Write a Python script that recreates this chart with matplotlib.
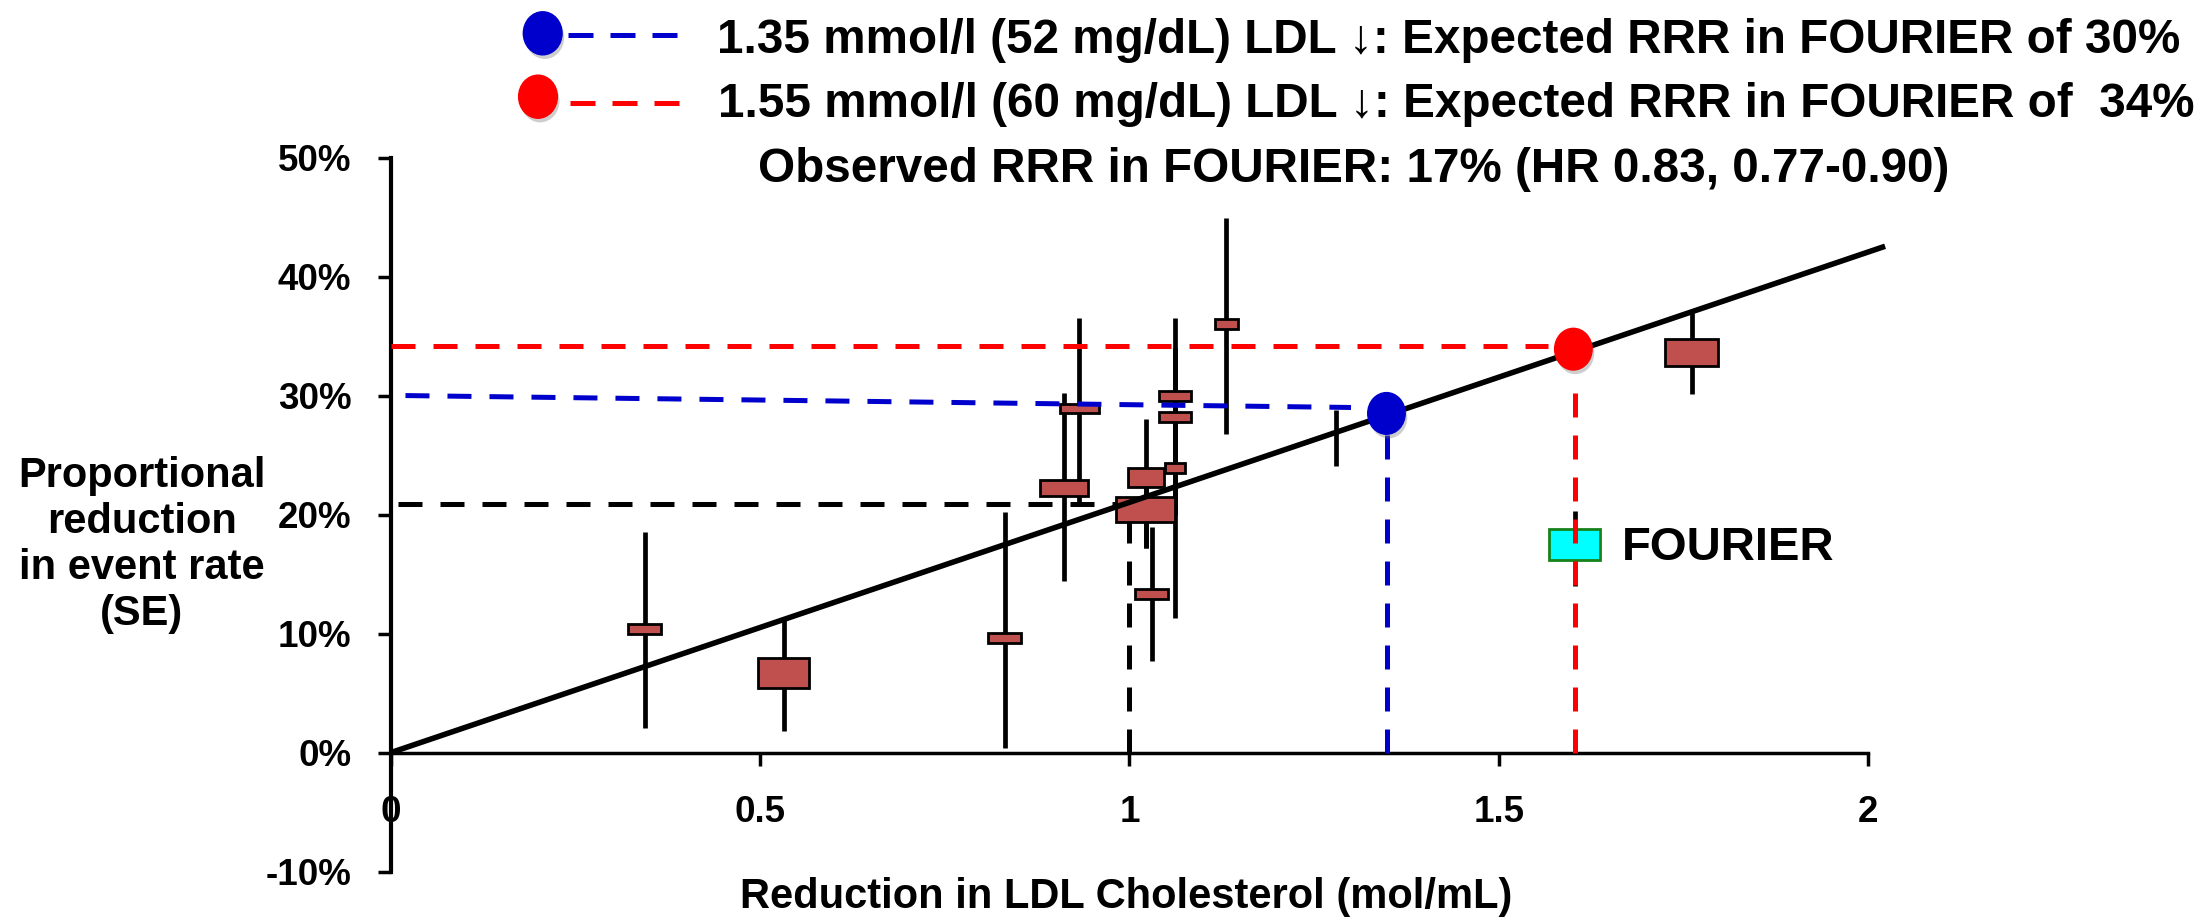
import matplotlib
matplotlib.use("Agg")
import matplotlib.pyplot as plt
import matplotlib.patheffects as pe
from matplotlib.lines import Line2D
from matplotlib.patches import Rectangle
from matplotlib.path import Path
from matplotlib.transforms import Affine2D
from matplotlib.ticker import PercentFormatter

plt.rcParams["font.family"] = ["Liberation Sans", "DejaVu Sans"]
plt.rcParams["font.weight"] = "bold"
plt.rcParams["axes.unicode_minus"] = False

# Trials: LDL reduction (mmol/L), proportional reduction, SE range, box size (weight)
trial_x = [0.344, 0.532, 0.831, 0.912, 0.932, 1.022, 1.023, 1.030,
           1.062, 1.062, 1.062, 1.131, 1.280, 1.761]
trial_y = [0.104, 0.067, 0.096, 0.222, 0.289, 0.204, 0.231, 0.133,
           0.300, 0.282, 0.239, 0.360, 0.265, 0.336]
trial_lo = [0.021, 0.018, 0.004, 0.144, 0.207, 0.172, 0.172, 0.077,
            0.240, 0.200, 0.113, 0.268, 0.241, 0.301]
trial_hi = [0.185, 0.112, 0.202, 0.302, 0.365, 0.235, 0.280, 0.190,
            0.365, 0.340, 0.300, 0.449, 0.288, 0.369]
weight_w = [0.045, 0.069, 0.044, 0.065, 0.053, 0.079, 0.049, 0.044,
            0.044, 0.044, 0.027, 0.031, 0.0, 0.071]
weight_h = [0.0084, 0.0258, 0.0084, 0.0134, 0.0078, 0.021, 0.016, 0.0084,
            0.0084, 0.0084, 0.0084, 0.0084, 0.0, 0.0224]

# FOURIER observed result
fourier_x = 1.603
fourier_y = 0.175
fourier_lo, fourier_hi = 0.140, 0.203
fourier_w, fourier_h = 0.069, 0.0258

# CTT regression line (22 % per 1 mmol/L)
fit_x = [0.0, 2.023]
fit_slope = 0.2103

# Expected RRR for FOURIER LDL reductions
exp_x = [1.348, 1.601]
exp_y = [0.285, 0.339]
blue_h_x, blue_h_y = [0.02, 1.30], [0.300, 0.290]
red_h_x, red_h_y = [0.0, 1.566], [0.342, 0.342]
blue_v_x, blue_v_y = [1.349, 1.349], [0.0, 0.269]
red_v_x, red_v_y = [1.603, 1.603], [0.0, 0.308]
ref_h_x, ref_h_y = [0.01, 1.0], [0.209, 0.209]
ref_v_x, ref_v_y = [1.0, 1.0], [0.0, 0.209]

xticks = [0, 0.5, 1, 1.5, 2]
xticklabels = ["0", "0.5", "1", "1.5", "2"]
yticks = [-0.1, 0.0, 0.1, 0.2, 0.3, 0.4, 0.5]

BOX = "#C0504D"
BLUE = "#0000CC"
RED = "#FF0000"
DASH = (0, (4.8, 3.6))

fig = plt.figure(figsize=(22.07, 9.22), dpi=100)
ax = fig.add_axes([0.17703, 0.05456, 0.68615, 0.7746])
ax.set_xlim(0, 2.05)
ax.set_ylim(-0.1, 0.5)

for s in ("top", "right"):
    ax.spines[s].set_visible(False)
ax.spines["bottom"].set_position(("data", 0))
ax.spines["bottom"].set_bounds(0, 2)
ax.spines["left"].set_bounds(-0.1, 0.5)
ax.spines["left"].set_linewidth(3)
ax.spines["bottom"].set_linewidth(2.5)

ax.set_xticks(xticks)
ax.set_xticklabels(xticklabels)
ax.set_yticks(yticks)
ax.yaxis.set_major_formatter(PercentFormatter(1.0, decimals=0))
ax.tick_params(axis="both", direction="out", length=9.4, width=2.5,
               labelsize=26.5)
ax.tick_params(axis="x", pad=21)
ax.tick_params(axis="y", pad=19)
for lab in ax.get_xticklabels() + ax.get_yticklabels():
    lab.set_fontweight("bold")

# reference dashed lines (behind boxes)
ax.plot(ref_h_x, ref_h_y, color="black", lw=3.6, linestyle=DASH, zorder=2)
ax.plot(ref_v_x, ref_v_y, color="black", lw=3.6, linestyle=DASH, zorder=2)

# trial error bars and weighted boxes
ax.vlines(trial_x, trial_lo, trial_hi, color="black", lw=3.4, zorder=3)
for x, y, w, h in zip(trial_x, trial_y, weight_w, weight_h):
    if w > 0:
        ax.add_patch(Rectangle((x - w / 2, y - h / 2), w, h, facecolor=BOX,
                               edgecolor="black", lw=2, zorder=4))

# FOURIER
ax.vlines([fourier_x], [fourier_lo], [fourier_hi], color="black", lw=3.4,
          zorder=3)
ax.add_patch(Rectangle((fourier_x - fourier_w / 2, fourier_y - fourier_h / 2),
                       fourier_w, fourier_h, facecolor="#00FFFF",
                       edgecolor="#17821A", lw=2, zorder=4))
ax.text(fourier_x + 0.063, fourier_y - 0.003, "FOURIER", fontsize=34,
        fontweight="bold", ha="left", va="center")

# regression line
ax.plot(fit_x, [fit_slope * v for v in fit_x], color="black", lw=4.0,
        zorder=5, solid_capstyle="butt")

# expected-RRR guide lines
ax.plot(blue_h_x, blue_h_y, color=BLUE, lw=3.6, linestyle=DASH, zorder=6)
ax.plot(blue_v_x, blue_v_y, color=BLUE, lw=3.6, linestyle=DASH, zorder=6)
ax.plot(red_h_x, red_h_y, color=RED, lw=3.6, linestyle=DASH, zorder=6)
ax.plot(red_v_x, red_v_y, color=RED, lw=3.6, linestyle=DASH, zorder=6)

ellipse = Path.unit_circle().transformed(Affine2D().scale(0.9, 1.0))
shadow = [pe.SimplePatchShadow(offset=(1.5, -3), shadow_rgbFace="0.45",
                               alpha=0.35), pe.Normal()]
for x, y, c in zip(exp_x, exp_y, [BLUE, RED]):
    ax.plot([x], [y], marker=ellipse, markersize=30, color=c, lw=0,
            zorder=7, path_effects=shadow)

# header "legend"
W, H = 2207.0, 922.0
for (mx, my, x0, x1, ly, c) in [(542.7, 33.3, 568, 680, 35, BLUE),
                                 (538.0, 96.7, 570, 682, 103, RED)]:
    fig.add_artist(Line2D([x0 / W, x1 / W], [1 - ly / H, 1 - ly / H],
                          transform=fig.transFigure, color=c, lw=3.6,
                          linestyle=(0, (5.0, 3.4))))
    fig.add_artist(Line2D([mx / W], [1 - my / H], transform=fig.transFigure,
                          marker=ellipse, markersize=31, color=c, lw=0,
                          path_effects=shadow))

fig.text(716.7 / W, 1 - 53 / H,
         "1.35 mmol/l (52 mg/dL) LDL \u2193: Expected RRR in FOURIER of 30%",
         fontsize=34.3, fontweight="bold", ha="left", va="baseline")
fig.text(718 / W, 1 - 117 / H,
         "1.55 mmol/l (60 mg/dL) LDL \u2193: Expected RRR in FOURIER of  34%",
         fontsize=34.3, fontweight="bold", ha="left", va="baseline")
fig.text(758 / W, 1 - 182 / H,
         "Observed RRR in FOURIER: 17% (HR 0.83, 0.77-0.90)",
         fontsize=34.3, fontweight="bold", ha="left", va="baseline")

fig.text(142 / W, 1 - 545 / H, "Proportional\nreduction\nin event rate\n(SE)",
         fontsize=30, fontweight="bold", ha="center", va="center",
         multialignment="center", linespacing=1.2)
fig.text(1126 / W, 1 - 897 / H, "Reduction in LDL Cholesterol (mol/mL)",
         fontsize=30, fontweight="bold", ha="center", va="center")

fig.savefig("out.png", dpi=100, facecolor="white")
